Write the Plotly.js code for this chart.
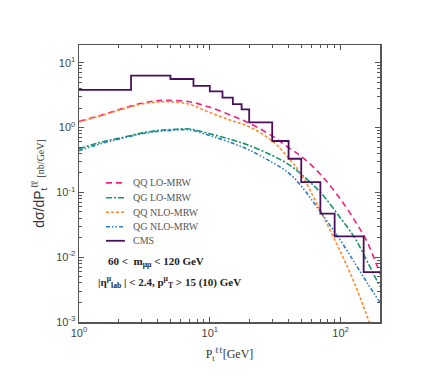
<!DOCTYPE html>
<html>
<head>
<meta charset="utf-8">
<script src="https://cdn.plot.ly/plotly-3.0.1.min.js"></script>
<style>html,body{margin:0;padding:0;background:#fff;}#chart{width:442px;height:387px;}</style>
</head>
<body>
<div id="chart"></div>
<script>
// ---- data ----
const ptGrid = [1, 1.5, 2, 3, 4, 5, 7, 10, 15, 20, 30, 40, 50, 70, 100, 130, 160, 200];
const qqLO  = [1.25, 1.56, 1.88, 2.37, 2.6, 2.62, 2.5, 2.05, 1.5, 1.17, 0.74, 0.49, 0.36, 0.19, 0.078, 0.035, 0.017, 0.0055];
const qgLO  = [0.47, 0.6, 0.68, 0.82, 0.9, 0.93, 0.95, 0.8, 0.64, 0.53, 0.37, 0.27, 0.19, 0.1, 0.04, 0.019, 0.0085, 0.0035];
const qqNLO = [1.22, 1.54, 1.84, 2.3, 2.48, 2.5, 2.28, 1.7, 1.26, 1.03, 0.62, 0.34, 0.19, 0.052, 0.012, 0.0036, 0.0012, 0.00033];
const qgNLO = [0.44, 0.57, 0.66, 0.8, 0.87, 0.9, 0.92, 0.75, 0.57, 0.45, 0.29, 0.2, 0.125, 0.05, 0.018, 0.0078, 0.004, 0.002];
const cmsEdges  = [1, 2.5, 5, 7.5, 10, 12.5, 15, 17.5, 20, 30, 40, 50, 70, 90, 150, 200];
const cmsValues = [3.8, 6.3, 5.6, 4.4, 3.6, 2.9, 2.3, 1.9, 1.2, 0.62, 0.33, 0.144, 0.047, 0.021, 0.0059];
const seriesNames = ['QQ LO-MRW', 'QG LO-MRW', 'QQ NLO-MRW', 'QG NLO-MRW', 'CMS'];
const xTickVals = [1, 10, 100];
const xTickText = ['10<sup>0</sup>', '10<sup>1</sup>', '10<sup>2</sup>'];
const yTickVals = [0.001, 0.01, 0.1, 1, 10];
const yTickText = ['10<sup>-3</sup>', '10<sup>-2</sup>', '10<sup>-1</sup>', '10<sup>0</sup>', '10<sup>1</sup>'];
const cutText1 = '<b>60 &lt;  m<sub>μμ</sub> &lt; 120 GeV</b>';
const cutText2 = '<b>|η<sup>μ</sup><sub>lab</sub> | &lt; 2.4, p<sup>μ</sup><sub>T</sub> &gt; 15 (10) GeV</b>';

// ---- styles ----
const lineStyles = [
  {color: '#f2207f', width: 1.6, dash: '6px,4px'},
  {color: '#16956a', width: 1.6, dash: '6px,2px,2px,2px'},
  {color: '#ff8a30', width: 1.6, dash: '3px,2px'},
  {color: '#2a7cc4', width: 1.6, dash: '4px,2px,1.5px,2px,1.5px,2px'},
  {color: '#4a0f5c', width: 1.8, dash: 'solid'}
];

// ---- build ----
function minorVals(lo, hi) {
  const v = [];
  for (let e = lo; e < hi; e++) for (let k = 2; k <= 9; k++) v.push(k * Math.pow(10, e));
  return v;
}
const cmsY = cmsValues.concat([cmsValues[cmsValues.length - 1]]);
const curveSets = [qqLO, qgLO, qqNLO, qgNLO];

const traces = curveSets.map((ys, i) => ({
  x: ptGrid, y: ys, name: seriesNames[i], mode: 'lines',
  line: Object.assign({}, lineStyles[i], {shape: 'spline'})
}));
traces.push({x: cmsEdges, y: cmsY, name: seriesNames[4], mode: 'lines',
  line: Object.assign({}, lineStyles[4], {shape: 'hv'})});

// manual legend (compact spacing as in reference)
const legendRowsY = [0.5023, 0.4483, 0.396, 0.3437, 0.2932];
const legendShapes = [];
const legendAnn = [];
seriesNames.forEach((nm, i) => {
  legendShapes.push({type: 'line', xref: 'paper', yref: 'paper',
    x0: 0.0896, x1: 0.1526, y0: legendRowsY[i], y1: legendRowsY[i],
    line: {color: lineStyles[i].color, width: lineStyles[i].width, dash: lineStyles[i].dash}});
  legendAnn.push({xref: 'paper', yref: 'paper', x: 0.172, y: legendRowsY[i], xanchor: 'left', yanchor: 'middle',
    showarrow: false, text: nm,
    font: {family: 'Liberation Serif, Times New Roman, serif', size: 10, color: '#555'}});
});

const axisCommon = {
  type: 'log', showgrid: false, zeroline: false, showline: true, linecolor: '#555', linewidth: 1.5,
  mirror: 'ticks', ticks: 'inside', ticklen: 5, tickwidth: 1, tickcolor: '#555',
  tickfont: {family: 'Liberation Sans, Arial, sans-serif', size: 11, color: '#444'}
};

const layout = {
  width: 442, height: 387,
  margin: {l: 79, r: 61.5, t: 45, b: 64.7},
  paper_bgcolor: '#fff', plot_bgcolor: '#fff',
  showlegend: false,
  xaxis: Object.assign({}, axisCommon, {
    range: [0, Math.log10(200)], tickmode: 'array', tickvals: xTickVals, ticktext: xTickText,
    minor: {tickmode: 'array', tickvals: minorVals(0, 3), ticks: 'inside', ticklen: 3, tickcolor: '#555', showgrid: false},
    title: {text: 'P<sub>t</sub><sup>ℓℓ</sup>[GeV]', standoff: 12,
      font: {family: 'Liberation Serif, Times New Roman, serif', size: 12, color: '#333'}}
  }),
  yaxis: Object.assign({}, axisCommon, {
    range: [-3, 1.273], tickmode: 'array', tickvals: yTickVals, ticktext: yTickText,
    minor: {tickmode: 'array', tickvals: minorVals(-3, 2), ticks: 'inside', ticklen: 3, tickcolor: '#555', showgrid: false},
    title: {text: 'dσ/dP<sub>t</sub><sup>ℓℓ</sup> <span style="font-family:Liberation Serif;font-size:10px">[nb/GeV]</span>', standoff: 8,
      font: {family: 'Liberation Sans, Arial, sans-serif', size: 14, color: '#333'}}
  }),
  shapes: legendShapes,
  annotations: legendAnn.concat([
    {xref: 'paper', yref: 'paper', x: 0.09, y: 0.218, xanchor: 'left', yanchor: 'middle', showarrow: false,
     text: cutText1, font: {family: 'Liberation Serif, Times New Roman, serif', size: 11, color: '#222'}},
    {xref: 'paper', yref: 'paper', x: 0.055, y: 0.146, xanchor: 'left', yanchor: 'middle', showarrow: false,
     text: cutText2, font: {family: 'Liberation Serif, Times New Roman, serif', size: 11, color: '#222'}}
  ])
};

Plotly.newPlot('chart', traces, layout, {displayModeBar: false, staticPlot: true});
</script>
</body>
</html>
